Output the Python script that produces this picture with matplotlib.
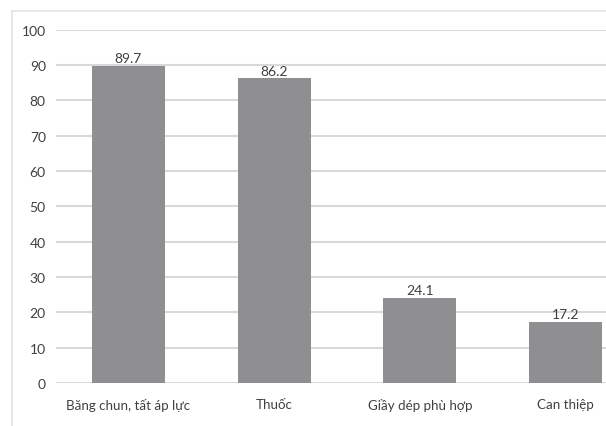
import matplotlib
matplotlib.use("Agg")
import matplotlib.pyplot as plt
from matplotlib.lines import Line2D

categories = ["Băng chun, tất áp lực", "Thuốc", "Giầy dép phù hợp", "Can thiệp"]
values = [89.7, 86.2, 24.1, 17.2]
yticks = [0, 10, 20, 30, 40, 50, 60, 70, 80, 90, 100]

plt.rcParams["font.family"] = ["Lato", "DejaVu Sans"]

W, H = 606, 427
fig = plt.figure(figsize=(W / 100, H / 100), dpi=100)

# axes extends a little past the right edge of the figure
left, right = 55.5, 638.5
bottom, top = 384, 30.7
ax = fig.add_axes([left / W, (H - bottom) / H, (right - left) / W, (bottom - top) / H])

x = range(len(categories))
ax.bar(x, values, width=0.5, color="#8f8f91", zorder=3)
for xi, v in zip(x, values):
    ax.text(xi, v + 0.5, f"{v}", ha="center", va="bottom", fontsize=10, color="#404040", zorder=4)

ax.set_xlim(-0.5, len(categories) - 0.5)
ax.set_ylim(0, 100)
ax.set_yticks(yticks)
ax.set_yticklabels([str(t) for t in yticks], fontsize=10, color="#404040")
ax.set_xticks(list(x))
ax.set_xticklabels(categories, fontsize=9.6, color="#404040")
ax.tick_params(axis="both", length=0)
ax.tick_params(axis="y", pad=7)
ax.tick_params(axis="x", pad=11)
ax.yaxis.grid(True, color="#d9d9d9", linewidth=1.5, zorder=0)
for s in ax.spines.values():
    s.set_visible(False)

# light frame around the chart area
fx0, fy0 = 11.5 / W, 1 - 11.5 / H
fig.add_artist(Line2D([fx0, 1.0], [fy0, fy0], color="#e3e3e3", linewidth=1.2))
fig.add_artist(Line2D([fx0, fx0], [0.0, fy0], color="#e3e3e3", linewidth=1.2))

fig.savefig("out.png", dpi=100)
